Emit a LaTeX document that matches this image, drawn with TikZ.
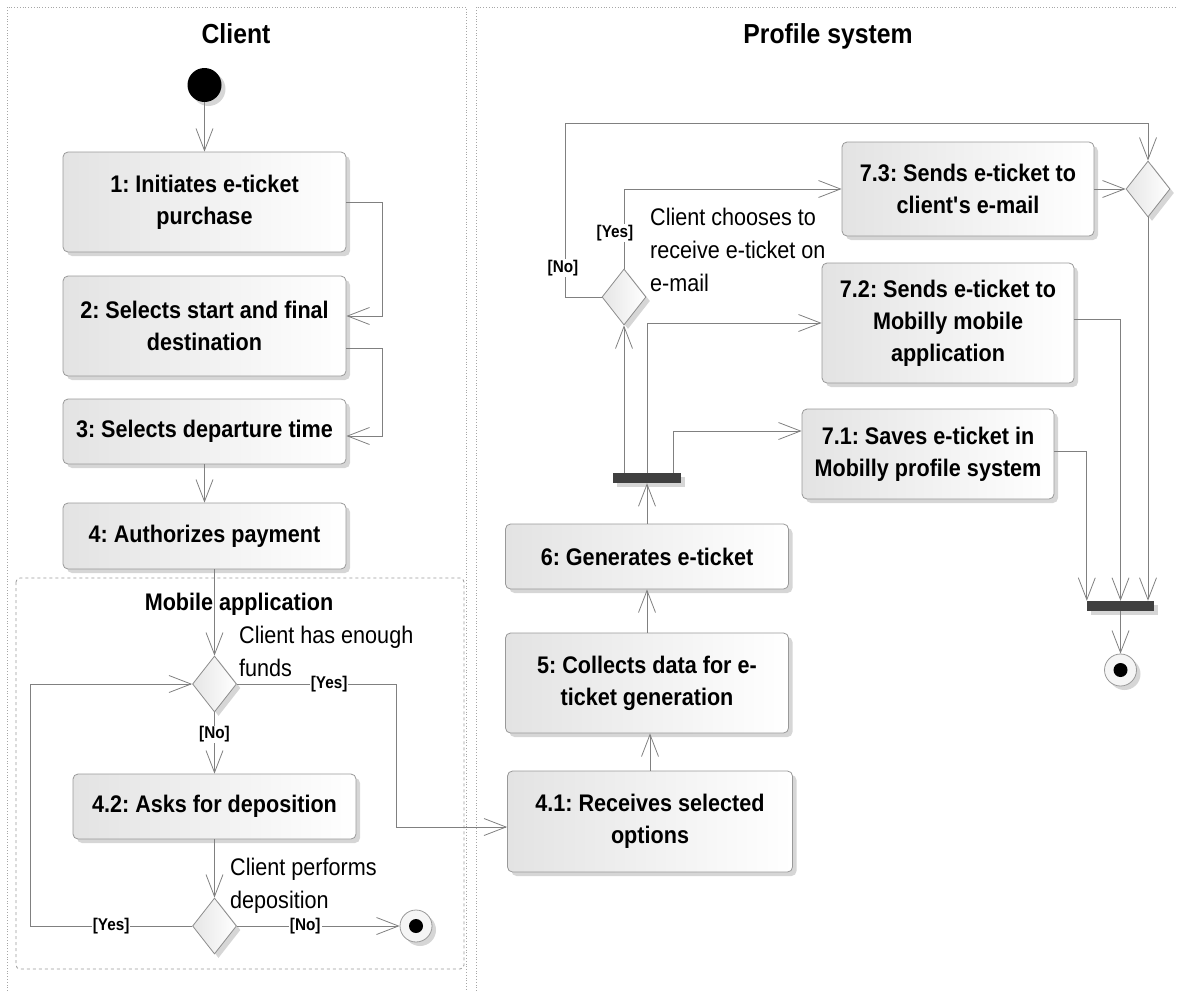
\documentclass[tikz,border=0pt]{standalone}
\usepackage{fontspec}
\setmainfont[FakeStretch=0.9]{Liberation Sans}
\usetikzlibrary{arrows.meta,shadows,shapes.geometric}
\frenchspacing
\begin{document}
\begin{tikzpicture}[x=1pt,y=-1pt,
  line/.style={draw=black!50, line width=0.8pt},
  flow/.style={line, -{Straight Barb[length=22pt,width=17pt,line width=0.8pt]}},
  shad/.style={drop shadow={shadow xshift=4pt, shadow yshift=-4pt, fill=black!16, opacity=1}},
  act/.style={draw=black!40, line width=0.8pt, rounded corners=5pt, left color=black!11, right color=white, shad, align=center, inner sep=0pt, font=\fontsize{24}{32}\selectfont\bfseries},
  dec/.style={diamond, draw=black!45, line width=0.8pt, left color=black!10, right color=white, minimum width=44pt, minimum height=56pt, inner sep=0pt, shad},
  guard/.style={fill=white, inner sep=1pt, font=\fontsize{17}{20}\selectfont\bfseries},
  note/.style={align=left, anchor=north west, inner sep=0pt, font=\fontsize{24}{33}\selectfont},
  lane/.style={draw=black!35, dotted, line width=0.8pt},
  title/.style={anchor=base, inner sep=0pt, font=\fontsize{27.5}{30}\selectfont\bfseries},
  initnode/.style={circle, fill=black, minimum size=34pt, inner sep=0pt, shad},
  finnode/.style={circle, draw=black!40, fill=black!4, line width=0.8pt, minimum size=32pt, inner sep=0pt, shad,
    path picture={\fill[black] (path picture bounding box.center) circle (7pt);}},
  bar/.style={rectangle, fill=black!75, minimum width=68pt, minimum height=10pt, inner sep=0pt, shad}
]
\useasboundingbox (0,0) rectangle (1177,991);

% swimlanes
\draw[lane] (7,991) -- (7,7) -- (466,7) -- (466,991);
\draw[lane] (476,991) -- (476,7) -- (1180,7);
\draw[draw=black!40, dashed, line width=0.8pt, rounded corners=4pt] (16,578) rectangle (464,969);

\node[title] (tclient) at (236,43) {Client};
\node[title] (tprofile) at (828,43) {Profile system};
\node[title, font=\fontsize{24}{30}\selectfont\bfseries] (tmobile) at (239,610) {Mobile application};

% client lane
\node[initnode] (init) at (204.5,85) {};
\node[act, minimum width=283pt, minimum height=100pt] (b1) at (204.5,202) {1: Initiates e-ticket\\purchase};
\node[act, minimum width=283pt, minimum height=100pt] (b2) at (204.5,326) {2: Selects start and final\\destination};
\node[act, minimum width=283pt, minimum height=65pt] (b3) at (204.5,431.5) {3: Selects departure time};
\node[act, minimum width=283pt, minimum height=66pt] (b4) at (204.5,536) {4: Authorizes payment};
\node[dec] (d1) at (214.5,684) {};
\node[act, minimum width=283pt, minimum height=65pt] (b42) at (214.5,806.5) {4.2: Asks for deposition};
\node[dec] (d2) at (214.5,926) {};
\node[finnode] (fin1) at (416,926) {};

\node[note] (n1) at (239,625.5) {Client has enough\\funds};
\node[note] (n2) at (230,857.5) {Client performs\\deposition};

% profile lane
\node[act, minimum width=285pt, minimum height=101pt] (b41) at (650,821.5) {4.1: Receives selected\\options};
\node[act, minimum width=283pt, minimum height=100pt] (b5) at (647,683) {5: Collects data for e-\\ticket generation};
\node[act, minimum width=283pt, minimum height=65pt] (b6) at (647,556.5) {6: Generates e-ticket};
\node[bar] (fork) at (647,478) {};
\node[dec] (d3) at (624,297) {};
\node[note] (n3) at (650,207.5) {Client chooses to\\receive e-ticket on\\e-mail};
\node[act, minimum width=252pt, minimum height=94pt] (b73) at (968,189) {7.3: Sends e-ticket to\\client\textquotesingle s e-mail};
\node[act, minimum width=252pt, minimum height=120pt] (b72) at (948,323) {7.2: Sends e-ticket to\\Mobilly mobile\\application};
\node[act, minimum width=252pt, minimum height=90pt] (b71) at (928,454) {7.1: Saves e-ticket in\\Mobilly profile system};
\node[dec] (d4) at (1148,189) {};
\node[bar, minimum width=67pt] (join) at (1120.5,606) {};
\node[finnode] (fin2) at (1120.5,670) {};
\coordinate (ntop) at (565,123);

% client connectors
\draw[flow] (init.south) -- (b1.north);
\draw[flow] (b1.east) -- ++(36,0) |- ([yshift=10pt]b2.east);
\draw[flow] ([yshift=-22pt]b2.east) -- ++(36,0) |- ([yshift=-4.5pt]b3.east);
\draw[flow] (b3.south) -- (b4.north);
\draw[flow] ([xshift=10pt]b4.south) -- (d1.north);
\draw[flow] (d1.south) -- node[guard,pos=0.36]{[No]} (b42.north);
\draw[flow] (b42.south) -- (d2.north);
\draw[flow] (d2.west) -- node[guard]{[Yes]} ++(-162,0) |- (d1.west);
\draw[flow] (d2.east) -- node[guard,pos=0.42]{[No]} (fin1.west);
\draw[flow] (d1.east) -- node[guard,pos=0.58]{[Yes]} ++(159,0) |- ([yshift=-5.5pt]b41.west);

% profile connectors
\draw[flow] (b41.north) -- (b41.north |- b5.south);
\draw[flow] (b5.north) -- (b6.south);
\draw[flow] (b6.north) -- (fork.south);
\draw[flow] (fork.north -| d3.south) -- (d3.south);
\draw[flow] (fork.north) |- (b72.west);
\draw[flow] ([xshift=26pt]fork.north) |- ([yshift=23pt]b71.west);
\draw[flow] (d3.west) -| (ntop) -| (d4.north);
\node[guard] (gno) at (563,268) {[No]};
\draw[flow] (d3.north) |- (b73.west);
\node[guard] (gyes) at (615,233) {[Yes]};
\draw[flow] (b73.east) -- (d4.west);
\draw[flow] (d4.south) -- (d4.south |- join.north);
\draw[flow] ([yshift=4pt]b72.east) -| (join.north);
\draw[flow] ([yshift=3pt]b71.east) -| (join.north west);
\draw[flow] (join.south) -- (fin2.north);
\end{tikzpicture}
\end{document}
